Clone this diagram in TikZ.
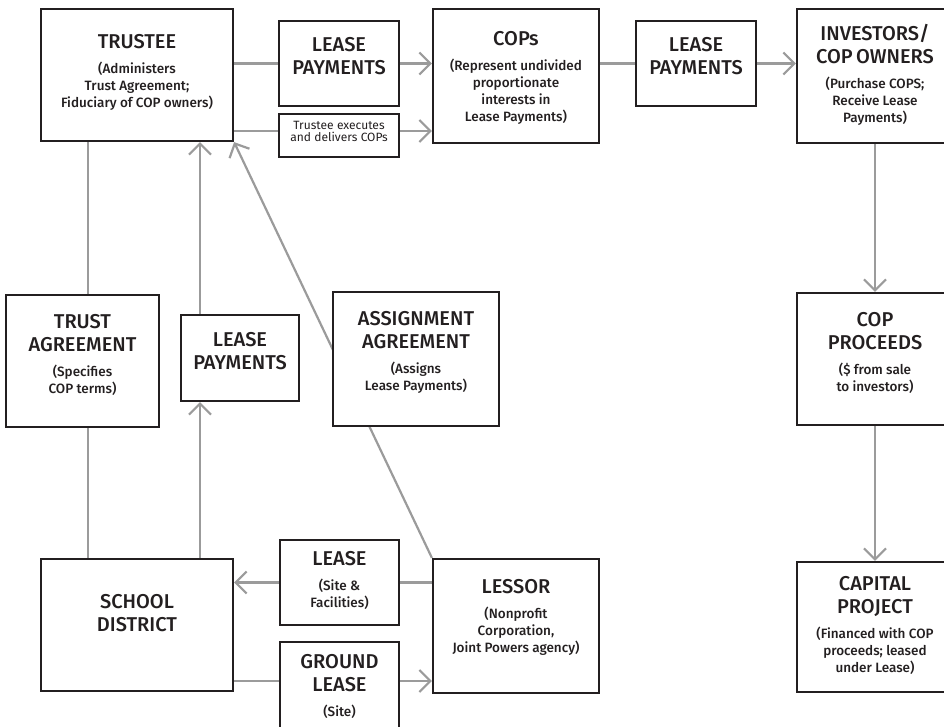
\documentclass[tikz,border=0pt]{standalone}
\usepackage{fontspec}
\setmainfont{Fira Sans}
\newfontfamily\firamed{Fira Sans Medium}
\usetikzlibrary{arrows.meta, positioning, backgrounds}
\definecolor{inkdark}{HTML}{231F20}
\definecolor{inkline}{HTML}{9B9B9B}
\newcommand{\headline}[1]{{\firamed\fontsize{20}{23}\selectfont #1\par}}
\newcommand{\subline}[1]{\vspace{8pt}{\firamed\fontsize{13.5}{17}\selectfont #1\par}}

\begin{document}
\begin{tikzpicture}[x=1pt, y=-1pt,
    box/.style={draw=inkdark, line width=2.2pt, fill=white, inner sep=0pt},
    lbl/.style={text=inkdark, align=center, inner sep=0pt, text width=180pt},
    link/.style={draw=inkline, line width=2.2pt},
    tip/.style={link, -{Straight Barb[length=11pt, width=22pt]}}]
  \useasboundingbox (0,0) rectangle (944,726);
  \foreach \name/\cx/\cy/\w/\h in {trustee/137/75/192/132, lpa/339/63.5/120/85,
      exec/339/135.5/120/43, cops/516/76/166/134, lpb/696/63.5/120/85,
      investors/875/76/156/134, proceeds/875/359/156/132, capital/875/627/156/130,
      trust/82.5/361/153/132, lpc/240/358/118/86, assign/416/359/166/134,
      school/137/625/192/132, lease/339.5/582.5/119/85, ground/339.5/685/119/86,
      lessor/516/626/166/134}{%
    \node[box, minimum width=\w pt, minimum height=\h pt] (\name) at (\cx,\cy) {};}
  \node[lbl, below=26pt of trustee.north] (trustee-txt)
    {\headline{TRUSTEE}\subline{(Administers\\Trust Agreement;\\Fiduciary of COP owners)}};
  \node[lbl, below=17pt of lpa.north] (lpa-txt) {\headline{LEASE\\PAYMENTS}};
  \node[lbl, below=8pt of exec.north] (exec-txt)
    {\fontsize{12}{15}\selectfont Trustee executes\\and delivers COPs};
  \node[lbl, below=23pt of cops.north] (cops-txt)
    {\headline{COPs}\subline{(Represent undivided\\proportionate\\interests in\\Lease Payments)}};
  \node[lbl, below=17pt of lpb.north] (lpb-txt) {\headline{LEASE\\PAYMENTS}};
  \node[lbl, below=16pt of investors.north] (investors-txt)
    {\headline{INVESTORS/\\COP OWNERS}\subline{(Purchase COPS;\\Receive Lease\\Payments)}};
  \node[lbl, below=20pt of proceeds.north] (proceeds-txt)
    {\headline{COP\\PROCEEDS}\subline{(\$ from sale\\to investors)}};
  \node[lbl, below=15pt of capital.north] (capital-txt)
    {\headline{CAPITAL\\PROJECT}\subline{(Financed with COP\\proceeds; leased\\under Lease)}};
  \node[lbl, below=20pt of trust.north] (trust-txt)
    {\headline{TRUST\\AGREEMENT}\subline{(Specifies\\COP terms)}};
  \node[lbl, below=18pt of lpc.north] (lpc-txt) {\headline{LEASE\\PAYMENTS}};
  \node[lbl, below=20pt of assign.north] (assign-txt)
    {\headline{ASSIGNMENT\\AGREEMENT}\subline{(Assigns\\Lease Payments)}};
  \node[lbl, below=36pt of school.north] (school-txt) {\headline{SCHOOL\\DISTRICT}};
  \node[lbl, below=12pt of lease.north] (lease-txt)
    {\headline{LEASE}\subline{(Site \&\\Facilities)}};
  \node[lbl, below=13pt of ground.north] (ground-txt)
    {\headline{GROUND\\LEASE}\subline{(Site)}};
  \node[lbl, below=21pt of lessor.north] (lessor-txt)
    {\headline{LESSOR}\subline{(Nonprofit\\Corporation,\\Joint Powers agency)}};
  \coordinate (execrow) at (0,131);
  \coordinate (groundrow) at (0,681);
  \coordinate (leftrun) at (88,0);
  \coordinate (midrun) at (200,0);
  \begin{scope}[on background layer]
    \draw[link] (trustee.east |- lpa.west) -- (lpa.west);
    \draw[tip] (lpa.east) -- (lpa.east -| cops.west);
    \draw[link] (trustee.east |- execrow) -- (exec.west |- execrow);
    \draw[tip] (exec.east |- execrow) -- (cops.west |- execrow);
    \draw[link] (cops.east |- lpb.west) -- (lpb.west);
    \draw[tip] (lpb.east) -- (lpb.east -| investors.west);
    \draw[tip] (investors.south) -- (proceeds.north);
    \draw[tip] (proceeds.south) -- (capital.north);
    \draw[link] (trustee.south -| leftrun) -- (trust.north -| leftrun);
    \draw[link] (trust.south -| leftrun) -- (school.north -| leftrun);
    \draw[tip] (school.north -| midrun) -- (lpc.south -| midrun);
    \draw[tip] (lpc.north -| midrun) -- (trustee.south -| midrun);
    \draw[tip] (lessor.north west) -- (trustee.south east);
    \draw[link] (lessor.west |- lease.east) -- (lease.east);
    \draw[tip] (lease.west) -- (lease.west -| school.east);
    \draw[link] (school.east |- groundrow) -- (ground.west |- groundrow);
    \draw[tip] (ground.east |- groundrow) -- (lessor.west |- groundrow);
  \end{scope}
\end{tikzpicture}
\end{document}
